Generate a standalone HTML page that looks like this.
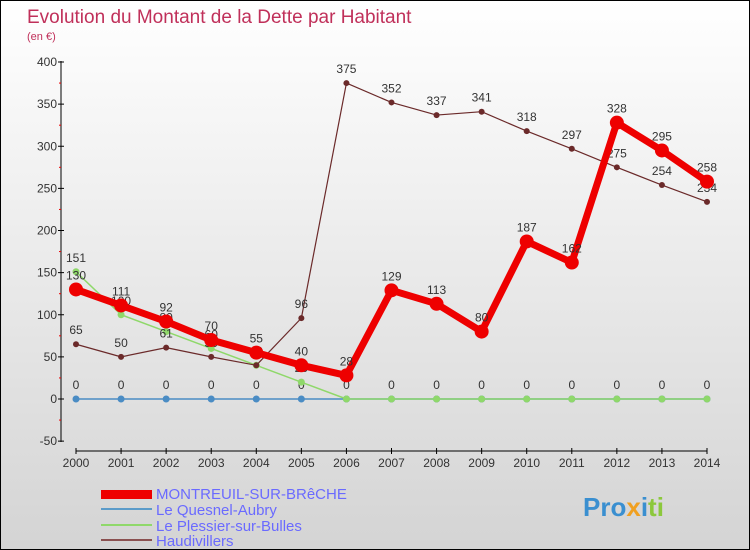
<!DOCTYPE html>
<html><head><meta charset="utf-8"><style>
body{margin:0}
#c{width:750px;height:550px;position:relative;overflow:hidden;font-family:"Liberation Sans",sans-serif;background:linear-gradient(#ffffff,#d4d4d4);box-sizing:border-box;border:1px solid #000}
</style></head><body>
<div id="c">
<svg id="s" width="750" height="550" style="position:absolute;left:0;top:0">
<text x="26" y="22" font-size="19" fill="#c0305a">Evolution du Montant de la Dette par Habitant</text>
<text x="26" y="39" font-size="11" fill="#c0305a">(en €)</text>
<line x1="60" y1="60" x2="60" y2="441" stroke="#000"/>
<line x1="75" y1="450" x2="706" y2="450" stroke="#000"/>
<g id="ax"></g><g id="series"></g>
<g>
<rect x="100" y="489" width="51" height="9" fill="#e00"/>
<text x="155" y="498" font-size="15" fill="#6a6aff">MONTREUIL-SUR-BRêCHE</text>
<line x1="100" y1="508" x2="151" y2="508" stroke="#5b9bc9" stroke-width="2"/>
<text x="155" y="514" font-size="15" fill="#6a6aff">Le Quesnel-Aubry</text>
<line x1="100" y1="524" x2="151" y2="524" stroke="#8fd86a" stroke-width="2"/>
<text x="155" y="530" font-size="15" fill="#6a6aff">Le Plessier-sur-Bulles</text>
<line x1="100" y1="539" x2="151" y2="539" stroke="#8a5050" stroke-width="2"/>
<text x="155" y="545" font-size="15" fill="#6a6aff">Haudivillers</text>
</g>
<g><text x="582" y="515" font-size="26" font-weight="bold" fill="#3a8fd0">Pro<tspan fill="#f0a020">x</tspan><tspan fill="#3a8fd0">i</tspan><tspan fill="#8cc83c">ti</tspan></text></g>
</svg>
</div>
<script>
const years=[2000,2001,2002,2003,2004,2005,2006,2007,2008,2009,2010,2011,2012,2013,2014];
const yTicks=[-50,0,50,100,150,200,250,300,350,400];
const montreuil=[130,111,92,70,55,40,28,129,113,80,187,162,328,295,258];
const quesnel=[0,0,0,0,0,0,0,0,0,0,0,0,0,0,0];
const plessier=[151,100,80,60,40,20,0,0,0,0,0,0,0,0,0];
const haudivillers=[65,50,61,50,40,96,375,352,337,341,318,297,275,254,234];
const NS='http://www.w3.org/2000/svg';
function X(i){return 75+i*(706-75)/14;}
function Y(v){return 398-v*(398-61)/400;}
function mk(t,a,p){const e=document.createElementNS(NS,t);for(const k in a)e.setAttribute(k,a[k]);p.appendChild(e);return e;}
const ax=document.getElementById('ax');
yTicks.forEach(v=>{
 const l=mk('line',{x1:57,x2:63,y1:Y(v),y2:Y(v),stroke:'#000'},ax);
 
 
 const t=mk('text',{x:56,y:Y(v)+4,'font-size':12,'text-anchor':'end',fill:'#333'},ax);t.textContent=v;
 
 
 if(v<400){const m=mk('line',{x1:58,x2:60,y1:Y(v+25),y2:Y(v+25),stroke:'#e00'},ax);
 
 }
});
years.forEach((y,i)=>{
 const l=mk('line',{x1:X(i),x2:X(i),y1:447,y2:453,stroke:'#000'},ax);
 
 
 const t=mk('text',{x:X(i),y:466,'font-size':12,'text-anchor':'middle',fill:'#333'},ax);t.textContent=y;
 
 
});
const sg=document.getElementById('series');
function draw(name,data,color,w,r,labels,lastN){
 const g=mk('g',{},sg);
 
 
 const pts=data.map((v,i)=>X(i)+','+Y(v)).join(' ');
 const pl=mk('polyline',{points:pts,fill:'none',stroke:color,'stroke-width':w,'stroke-linejoin':'round'},g);
 
 
 data.forEach((v,i)=>{
  const c=mk('circle',{cx:X(i),cy:Y(v),r:r,fill:color},g);
  
  
  if(labels&&(lastN===undefined||i<lastN)){const t=mk('text',{x:X(i),y:Y(v)-10,'font-size':12,'text-anchor':'middle',fill:'#333'},g);t.textContent=v;
  
  }
 });
}
draw('quesnel',quesnel,'#4a8cc4',1.5,3.5,true);
draw('plessier',plessier,'#8fd86a',1.5,3.5,true,6);
draw('haudivillers',haudivillers,'#6b2a2a',1.2,3,true);
draw('montreuil',montreuil,'#ee0000',7,7,true);
</script>
</body></html>
